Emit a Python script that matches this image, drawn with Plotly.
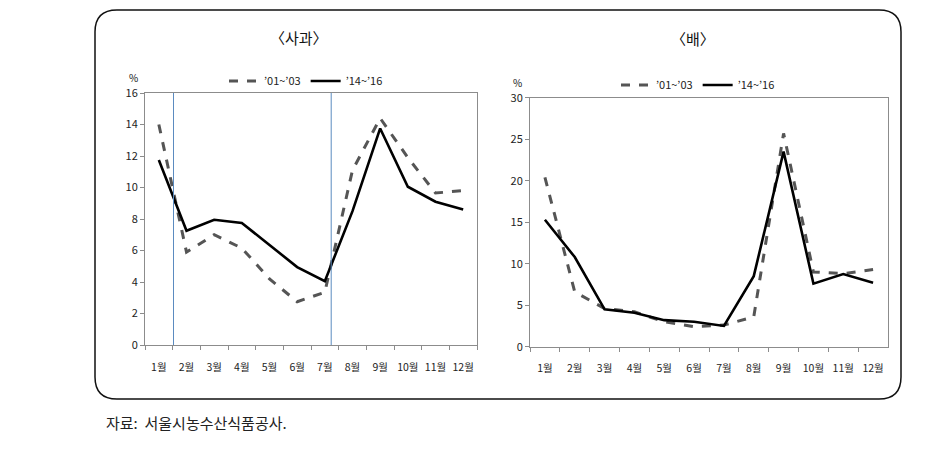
import plotly.graph_objects as go

months = ["1월", "2월", "3월", "4월", "5월", "6월", "7월", "8월", "9월", "10월", "11월", "12월"]
series_names = ["’01~’03", "’14~’16"]

apple_0103 = [14.0, 5.9, 7.0, 6.15, 4.2, 2.75, 3.35, 11.1, 14.4, 11.9, 9.65, 9.8]
apple_1416 = [11.75, 7.25, 7.95, 7.75, 6.35, 4.95, 4.05, 8.5, 13.75, 10.05, 9.1, 8.6]
pear_0103 = [20.4, 6.6, 4.6, 4.2, 3.0, 2.4, 2.6, 3.6, 25.7, 9.0, 8.8, 9.3]
pear_1416 = [15.3, 10.8, 4.5, 4.1, 3.2, 3.0, 2.5, 8.5, 23.5, 7.6, 8.75, 7.7]

apple_marks = [0.53, 6.23]  # vertical reference lines (category position)

OFF = 8  # page body margin
W, H = 943 - OFF, 454 - OFF
FONT = "Noto Sans CJK KR"

def px(x):
    return (x - OFF) / W

def py(y):
    return 1 - (y - OFF) / H

fig = go.Figure()

dash_style = dict(color="#555555", width=3, dash="dash")
solid_style = dict(color="#000000", width=2.6)

fig.add_trace(go.Scatter(x=months, y=apple_0103, mode="lines", name=series_names[0],
                         line=dash_style, xaxis="x", yaxis="y", legend="legend"))
fig.add_trace(go.Scatter(x=months, y=apple_1416, mode="lines", name=series_names[1],
                         line=solid_style, xaxis="x", yaxis="y", legend="legend"))
fig.add_trace(go.Scatter(x=months, y=pear_0103, mode="lines", name=series_names[0],
                         line=dash_style, xaxis="x2", yaxis="y2", legend="legend2"))
fig.add_trace(go.Scatter(x=months, y=pear_1416, mode="lines", name=series_names[1],
                         line=solid_style, xaxis="x2", yaxis="y2", legend="legend2"))

xcommon = dict(type="category", showgrid=False, showline=True, linecolor="#8c8c8c",
               linewidth=1, mirror=True, ticks="outside", tickson="boundaries",
               ticklen=4, tickcolor="#8c8c8c", tickangle=0, automargin=False,
               ticklabelstandoff=12,
               tickfont=dict(family=FONT, size=10.5, color="#222222"), zeroline=False)
ycommon = dict(showgrid=False, showline=True, linecolor="#8c8c8c", linewidth=1,
               mirror=True, ticks="outside", ticklen=4, tickcolor="#8c8c8c",
               automargin=False,
               tickfont=dict(family=FONT, size=11, color="#222222"), zeroline=False)

fig.update_layout(
    width=W, height=H,
    margin=dict(l=0, r=0, t=0, b=0, autoexpand=False),
    paper_bgcolor="white", plot_bgcolor="white",
    font=dict(family=FONT, color="#222222"),
    xaxis=dict(domain=[px(145), px(477)], anchor="y", range=[-0.5, 11.5], **xcommon),
    yaxis=dict(domain=[py(345), py(93)], anchor="x", range=[0, 16], dtick=2, **ycommon),
    xaxis2=dict(domain=[px(530), px(888)], anchor="y2", range=[-0.5, 11.5], **xcommon),
    yaxis2=dict(domain=[py(346.7), py(97.7)], anchor="x2", range=[0, 30], dtick=5, **ycommon),
    legend=dict(orientation="h", x=px(224), y=py(81), xanchor="left", yanchor="middle",
                font=dict(family=FONT, size=11, color="#222222"), bgcolor="rgba(0,0,0,0)",
                itemwidth=30, tracegroupgap=0),
    legend2=dict(orientation="h", x=px(616), y=py(85), xanchor="left", yanchor="middle",
                 font=dict(family=FONT, size=11, color="#222222"), bgcolor="rgba(0,0,0,0)",
                 itemwidth=30, tracegroupgap=0),
    showlegend=True,
)

# rounded border
x0, x1, y0, y1 = px(95), px(901), py(399), py(10)
rx, ry = 22 / W, 22 / H
path = (f"M {x0+rx},{y1} L {x1-rx},{y1} Q {x1},{y1} {x1},{y1-ry} "
        f"L {x1},{y0+ry} Q {x1},{y0} {x1-rx},{y0} L {x0+rx},{y0} "
        f"Q {x0},{y0} {x0},{y0+ry} L {x0},{y1-ry} Q {x0},{y1} {x0+rx},{y1} Z")
fig.add_shape(type="path", path=path, xref="paper", yref="paper",
              line=dict(color="#111111", width=1.5))

for xm in apple_marks:
    fig.add_shape(type="line", xref="x", yref="y", x0=xm, x1=xm, y0=0, y1=16,
                  line=dict(color="#5b8bc0", width=1))

annos = [
    dict(text="〈사과〉", x=px(299), y=py(38), size=15),
    dict(text="〈배〉", x=px(693), y=py(39), size=15),
    dict(text="%", x=px(133), y=py(77), size=10),
    dict(text="%", x=px(518), y=py(82), size=10),
]
for a in annos:
    fig.add_annotation(text=a["text"], x=a["x"], y=a["y"], xref="paper", yref="paper",
                       showarrow=False, xanchor="center", yanchor="middle",
                       font=dict(family=FONT, size=a["size"], color="#111111"))

fig.add_annotation(text="자료:  서울시농수산식품공사.", x=px(104), y=py(422), xref="paper",
                   yref="paper", showarrow=False, xanchor="left", yanchor="middle",
                   font=dict(family=FONT, size=15, color="#222222"))

fig.write_html("out.html")
